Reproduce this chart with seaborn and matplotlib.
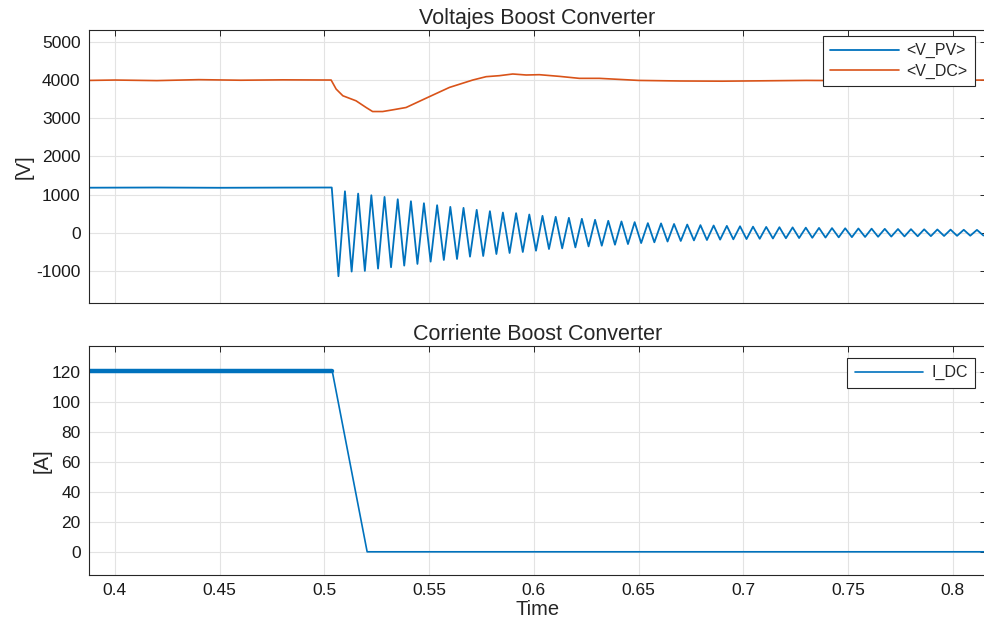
import matplotlib
matplotlib.use("Agg")
import matplotlib.pyplot as plt
import seaborn as sns
import pandas as pd

# --- data ---
t_pv_pre = [0.3876, 0.42, 0.45, 0.48, 0.5035]
v_pv_pre = [1180, 1185, 1178, 1183, 1185]

# extrema of the V_PV oscillation (trough, peak, trough, ...)
t_pv_osc = [0.5067, 0.5098, 0.5130, 0.5161, 0.5193, 0.5224, 0.5256, 0.5287, 0.5318, 0.5350,
            0.5381, 0.5413, 0.5444, 0.5475, 0.5507, 0.5538, 0.5570, 0.5601, 0.5633, 0.5664,
            0.5695, 0.5727, 0.5758, 0.5790, 0.5821, 0.5852, 0.5884, 0.5915, 0.5947, 0.5978,
            0.6010, 0.6041, 0.6072, 0.6104, 0.6135, 0.6167, 0.6198, 0.6229, 0.6261, 0.6292,
            0.6324, 0.6355, 0.6387, 0.6418, 0.6449, 0.6481, 0.6512, 0.6544, 0.6575, 0.6607,
            0.6638, 0.6669, 0.6701, 0.6732, 0.6764, 0.6795, 0.6826, 0.6858, 0.6889, 0.6921,
            0.6952, 0.6984, 0.7015, 0.7046, 0.7078, 0.7109, 0.7141, 0.7172, 0.7203, 0.7235,
            0.7266, 0.7298, 0.7329, 0.7361, 0.7392, 0.7423, 0.7455, 0.7486, 0.7518, 0.7549,
            0.7581, 0.7612, 0.7643, 0.7675, 0.7706, 0.7738, 0.7769, 0.7800, 0.7832, 0.7863,
            0.7895, 0.7926, 0.7958, 0.7989, 0.8020, 0.8052, 0.8083, 0.8115, 0.8146]
v_pv_osc = [-1139, 1087, -1017, 1026, -1000, 983, -939, 939, -904, 878,
            -861, 826, -817, 774, -757, 722, -713, 678, -687, 652,
            -626, 600, -609, 565, -557, 530, -530, 513, -504, 478,
            -470, 443, -426, 417, -409, 391, -383, 365, -357, 339,
            -339, 313, -313, 296, -296, 278, -270, 252, -250, 245,
            -230, 230, -215, 215, -200, 200, -190, 190, -180, 180,
            -172, 170, -165, 160, -158, 152, -150, 145, -143, 140,
            -138, 133, -132, 127, -126, 122, -120, 117, -115, 112,
            -110, 107, -105, 102, -100, 98, -96, 94, -92, 90,
            -88, 86, -84, 82, -80, 78, -77, 75, -73]

t_dc = [0.3876, 0.40, 0.42, 0.44, 0.46, 0.48, 0.5032, 0.5056, 0.5088, 0.5151,
        0.5199, 0.5230, 0.5278, 0.5326, 0.5390, 0.5493, 0.5597, 0.5708, 0.5772, 0.5835,
        0.5899, 0.5963, 0.6026, 0.6122, 0.6217, 0.6313, 0.65, 0.67, 0.69, 0.71,
        0.73, 0.75, 0.77, 0.79, 0.8158]
v_dc = [3990, 4000, 3985, 4010, 3995, 4005, 4000, 3763, 3588, 3456,
        3281, 3175, 3175, 3219, 3281, 3544, 3807, 4000, 4088, 4114,
        4158, 4132, 4140, 4096, 4044, 4044, 3990, 3975, 3970, 3980,
        3990, 3985, 3995, 3990, 4000]

t_idc_flat = [0.3876, 0.5037]
i_dc_flat = [121, 121]
t_idc = [0.3876, 0.5037, 0.5204, 0.8158]
i_dc = [121, 121, 0, 0]

xticks = [0.4, 0.45, 0.5, 0.55, 0.6, 0.65, 0.7, 0.75, 0.8]
xtick_labels = ['0.4', '0.45', '0.5', '0.55', '0.6', '0.65', '0.7', '0.75', '0.8']

blue = '#0072BD'
orange = '#D95319'

sns.set_theme(style="whitegrid")
plt.rcParams['font.family'] = ['Liberation Sans', 'DejaVu Sans']
plt.rcParams['axes.unicode_minus'] = False

fig = plt.figure(figsize=(9.84, 6.28), dpi=100)
ax1 = fig.add_axes([0.0904, 0.5175, 0.9116, 0.4347])
ax2 = fig.add_axes([0.0904, 0.0844, 0.9116, 0.3646])

pv = pd.DataFrame({'t': t_pv_pre + t_pv_osc, 'v': v_pv_pre + v_pv_osc})
dc = pd.DataFrame({'t': t_dc, 'v': v_dc})
sns.lineplot(data=pv, x='t', y='v', ax=ax1, color=blue, lw=1.3, sort=False,
             estimator=None, label='<V_PV>', solid_joinstyle='round')
sns.lineplot(data=dc, x='t', y='v', ax=ax1, color=orange, lw=1.2, sort=False,
             estimator=None, label='<V_DC>')

sns.lineplot(x=t_idc_flat, y=i_dc_flat, ax=ax2, color=blue, lw=3.2, estimator=None)
sns.lineplot(x=t_idc, y=i_dc, ax=ax2, color=blue, lw=1.2, sort=False,
             estimator=None, label='I_DC')

for ax in (ax1, ax2):
    ax.set_facecolor('white')
    ax.set_xlim(0.3876, 0.8158)
    ax.set_xticks(xticks)
    ax.grid(True, color='#e3e3e3', lw=0.8)
    for s in ax.spines.values():
        s.set_color('#262626')
        s.set_linewidth(0.8)
    ax.tick_params(direction='in', top=True, right=True, length=4, width=0.7,
                   colors='#262626', labelsize=12.5, pad=6, labelcolor='#1a1a1a')
    ax.set_xlabel('')

ax1.set_xticklabels([])
ax1.set_ylim(-1840, 5310)
ax1.set_yticks([-1000, 0, 1000, 2000, 3000, 4000, 5000])
ax1.set_ylabel('[V]', fontsize=14.5, labelpad=2)
ax1.set_title('Voltajes Boost Converter', fontsize=15.5, pad=4)

ax2.set_xticklabels(xtick_labels)
ax2.set_ylim(-15.5, 137.5)
ax2.set_yticks([0, 20, 40, 60, 80, 100, 120])
ax2.set_ylabel('[A]', fontsize=14.5, labelpad=0)
ax2.set_xlabel('Time', fontsize=14.5, labelpad=1)
ax2.set_title('Corriente Boost Converter', fontsize=15.5, pad=4)

legend_anchor = {ax1: (0.9877, 0.978), ax2: (0.9877, 0.9476)}
for ax in (ax1, ax2):
    leg = ax.legend(loc='upper right', bbox_to_anchor=legend_anchor[ax],
                    borderaxespad=0, fontsize=11.5, frameon=True, fancybox=False,
                    edgecolor='#262626', handlelength=4.3, handletextpad=0.5,
                    borderpad=0.45, labelspacing=0.35, framealpha=1)
    leg.get_frame().set_linewidth(0.8)

fig.savefig('out.png', dpi=100)
